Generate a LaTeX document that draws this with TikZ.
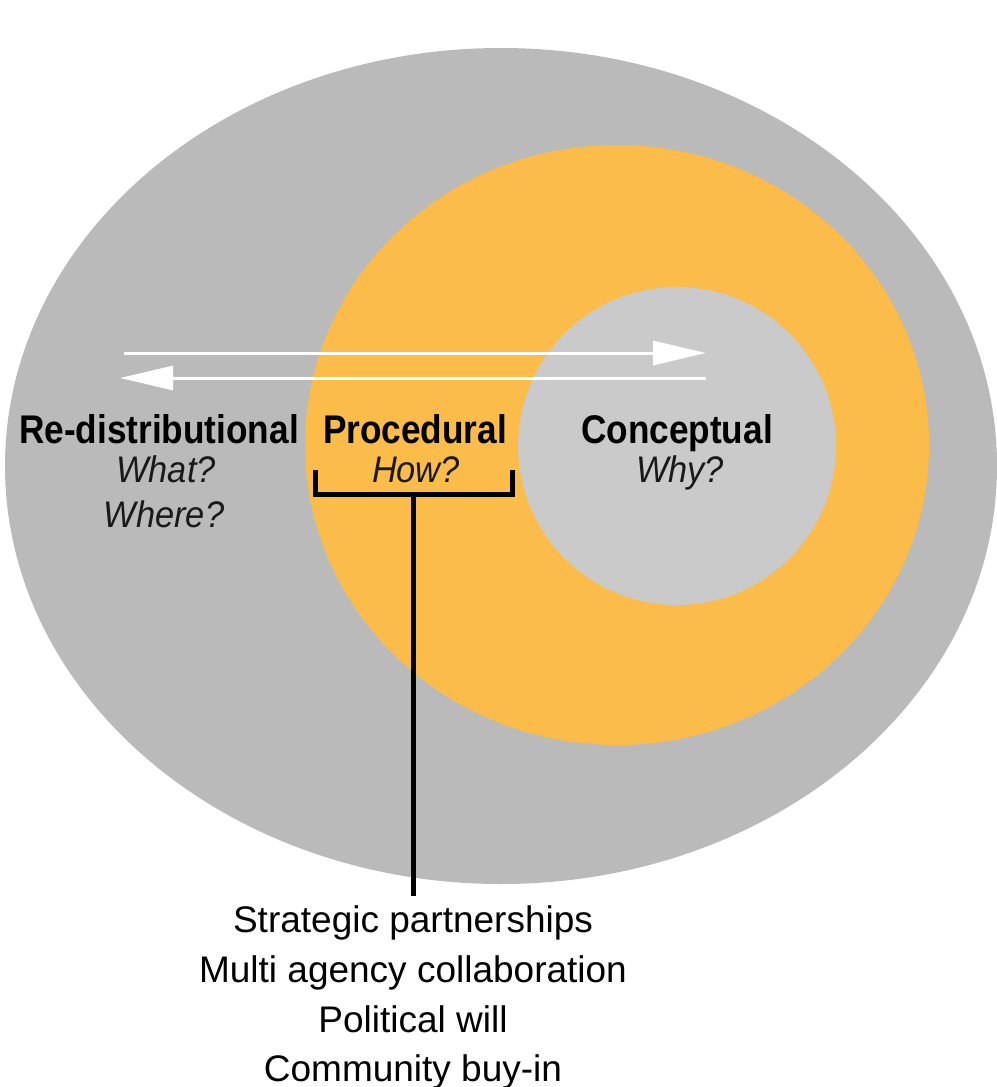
\documentclass[tikz,border=0pt]{standalone}
\usepackage{fontspec}
\setmainfont{Liberation Sans}
\newfontfamily\headfont[FakeStretch=0.88]{Liberation Sans}
\newfontfamily\subfont[FakeStretch=0.93]{Liberation Sans}
\usetikzlibrary{arrows.meta}
\definecolor{outergray}{HTML}{BABABA}
\definecolor{ringorange}{HTML}{FBBC4A}
\definecolor{innergray}{HTML}{C9CAC9}
\tikzset{
  head/.style={font=\headfont\fontsize{40}{44}\selectfont\bfseries, inner sep=0pt, anchor=base},
  sub/.style={font=\subfont\fontsize{37}{42}\selectfont\itshape, inner sep=0pt, anchor=base, text=black!90},
  item/.style={font=\fontsize{37}{42}\selectfont, inner sep=0pt, anchor=base},
  flow/.style={draw=white, line width=3pt, -{Triangle[length=53pt,width=24pt,fill=white]}},
  brace/.style={draw=black, line width=5pt}
}
\begin{document}
\begin{tikzpicture}[x=1pt,y=-1pt]
\useasboundingbox (0,0) rectangle (996,1087);
\fill[white] (0,0) rectangle (996,1087);
\fill[outergray] (501,466) ellipse [x radius=496, y radius=418];
\fill[ringorange] (617,445) ellipse [x radius=312, y radius=300];
\fill[innergray] (677,446) circle [radius=159];
% arrows
\coordinate (a1s) at (124,353);
\coordinate (a1e) at (706,353);
\coordinate (a2s) at (706,378);
\coordinate (a2e) at (120,378);
\draw[flow] (a1s) -- (a1e);
\draw[flow] (a2s) -- (a2e);
% labels
\node[head] (redis) at (159,443) {Re-distributional};
\node[sub] (what) at (166,482) {What?};
\node[sub] (where) at (164,527) {Where?};
\node[head] (proc) at (415,443) {Procedural};
\node[sub] (how) at (416,482) {How?};
\node[head] (conc) at (677,443) {Conceptual};
\node[sub] (why) at (680,482) {Why?};
% bracket
\coordinate (bl) at (315,470);
\coordinate (br) at (512,470);
\coordinate (bm) at (413,494);
\coordinate (stemend) at (413,896);
\draw[brace] (bl) |- (bm) -| (br);
\node[item] (l1) at (413,932) {Strategic partnerships};
\node[item] (l2) at (413,982) {Multi agency collaboration};
\node[item] (l3) at (413,1032) {Political will};
\node[item] (l4) at (413,1081) {Community buy-in};
\draw[brace] (bm) -- (stemend);
\end{tikzpicture}
\end{document}
